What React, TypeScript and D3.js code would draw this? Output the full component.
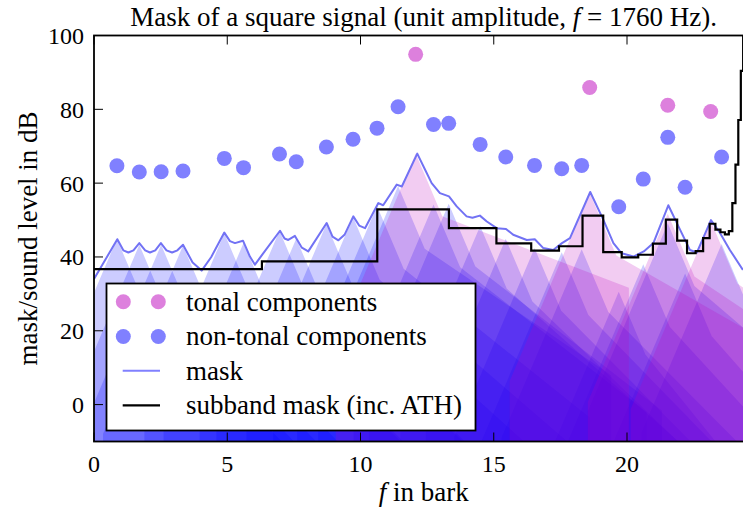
import React from "react";
import * as d3 from "d3";

// ---------- data ----------
const tonalBark = [12.07, 18.6, 21.53, 23.14];
const tonalDb = [94.9, 85.9, 81.1, 79.4];
const tonalMaskPeak = [68.0, 57.4, 51.7, 49.8];

const nonTonalBark = [0.86, 1.7, 2.52, 3.34, 4.89, 5.61, 6.96, 7.59, 8.72, 9.72, 10.62, 11.41, 12.74, 13.31, 14.49, 15.45, 16.53, 17.55, 18.3, 19.69, 20.61, 21.53, 22.18, 23.55];
const nonTonalDb = [64.7, 63.0, 63.1, 63.3, 66.7, 64.2, 67.9, 65.8, 69.8, 71.9, 74.9, 80.7, 75.9, 76.2, 70.5, 67.1, 64.8, 63.9, 64.8, 53.6, 61.1, 72.4, 58.9, 67.1];
const nonTonalMaskPeak = [44.9, 43.3, 43.3, 43.1, 46.4, 43.8, 47.1, 45.0, 48.9, 50.8, 53.8, 59.2, 54.2, 54.4, 48.4, 44.9, 42.4, 41.3, 42.1, 30.6, 38.0, 49.1, 35.5, 43.5];

const maskBark = [0.0, 0.875, 1.1, 1.29, 1.48, 1.7, 1.92, 2.1, 2.3, 2.51, 2.72, 2.93, 3.13, 3.34, 3.7, 4.04, 4.4, 4.89, 5.1, 5.29, 5.59, 5.85, 6.04, 6.3, 6.98, 7.15, 7.29, 7.54, 7.8, 8.04, 8.73, 8.95, 9.17, 9.4, 9.73, 9.95, 10.17, 10.67, 10.85, 11.36, 11.55, 12.13, 12.42, 12.67, 12.98, 13.32, 13.61, 13.98, 14.2, 14.48, 14.74, 15.11, 15.46, 15.73, 16.24, 16.54, 16.86, 17.23, 17.56, 17.86, 18.62, 19.11, 19.49, 19.8, 20.24, 20.63, 20.99, 21.55, 21.99, 22.36, 22.62, 23.15, 23.49, 23.86, 24.35];
const maskDb = [34.0, 44.8, 41.8, 41.2, 41.8, 43.75, 41.8, 41.2, 41.8, 43.75, 41.8, 41.2, 41.8, 43.3, 38.5, 36.3, 40.0, 46.6, 44.3, 43.75, 44.4, 40.1, 37.9, 40.5, 47.1, 45.0, 44.6, 45.7, 42.5, 41.5, 49.2, 45.5, 44.5, 46.0, 51.0, 48.5, 47.8, 54.6, 54.0, 59.6, 59.1, 68.0, 63.7, 60.0, 57.3, 56.4, 53.7, 51.0, 50.6, 51.2, 49.6, 47.8, 47.6, 46.0, 44.6, 44.8, 42.4, 41.9, 43.75, 45.1, 57.6, 50.1, 43.75, 41.0, 40.1, 41.5, 43.75, 54.0, 47.4, 41.9, 41.2, 50.0, 46.5, 41.9, 36.5];

const subbandMaskDb = [36.7, 38.8, 52.9, 47.8, 43.7, 41.7, 42.9, 51.2, 41.3, 39.9, 40.6, 43.6, 50.1, 44.4, 41.0, 41.6, 45.1, 49.0, 47.4, 46.7, 46.1, 47.0, 54.6, 65.0, 77.1, 90.4, 104.0];

const xTicks = [0, 5, 10, 15, 20];
const yTicks = [0, 20, 40, 60, 80, 100];

// ---------- helpers ----------
const hzToBark = (f: number) => 13 * Math.atan(0.00076 * f) + 3.5 * Math.atan((f / 7500) ** 2);
const subbandEdges = d3.range(subbandMaskDb.length + 1).map((k) => hzToBark((k * 22050) / 32));

const W = 743;
const H = 512;
const x = d3.scaleLinear().domain([0, hzToBark(22050)]).range([94, 94 + 26.65 * hzToBark(22050)]);
const y = d3.scaleLinear().domain([-10, 100]).range([441.5, 35.5]);
const FLOOR = -40;

// individual masking curve: 17 dB/bark below (3 bark), 17 dB/bark then (17 - 0.15 X) above (8 bark)
function spreadPoly(z: number, P: number, X: number): [number, number][] {
  const up = 17 - 0.15 * X;
  return [
    [z - 3, FLOOR],
    [z - 3, P - 51],
    [z, P],
    [z + 1, P - 17],
    [z + 8, P - 17 - 7 * up],
    [z + 8, FLOOR],
  ];
}

const FONT = "'Liberation Serif', 'Times New Roman', serif";
const FS = 27;

export default function App() {
  const poly = d3
    .line<[number, number]>()
    .x((d) => x(d[0]))
    .y((d) => y(d[1]));
  const maskLine = d3
    .line<number>()
    .x((_, i) => x(maskBark[i]))
    .y((d) => y(d));
  const stepPts: [number, number][] = subbandMaskDb.map((v, i) => [subbandEdges[i], v] as [number, number]);
  stepPts.push([subbandEdges[subbandMaskDb.length], subbandMaskDb[subbandMaskDb.length - 1]]);
  const stepLine = d3
    .line<[number, number]>()
    .curve(d3.curveStepAfter)
    .x((d) => x(d[0]))
    .y((d) => y(d[1]));

  const left = x(0);
  const right = x.range()[1];
  const top = y(100);
  const bottom = y(-10);

  return (
    <div style={{ position: "absolute", left: 0, top: 0 }}>
      <svg width={W} height={H} style={{ display: "block", background: "#fff" }}>
        <defs>
          <clipPath id="plot">
            <rect x={left} y={top} width={right - left} height={bottom - top} />
          </clipPath>
        </defs>
        <g clipPath="url(#plot)">
          {nonTonalBark.map((z, i) => (
            <path key={"n" + i} d={poly(spreadPoly(z, nonTonalMaskPeak[i], nonTonalDb[i])) + "Z"} fill="#0000ff" fillOpacity={0.2} stroke="none" />
          ))}
          {tonalBark.map((z, i) => (
            <path key={"t" + i} d={poly(spreadPoly(z, tonalMaskPeak[i], tonalDb[i])) + "Z"} fill="#be00be" fillOpacity={0.2} stroke="none" />
          ))}
          <path d={maskLine(maskDb) || ""} fill="none" stroke="#7272f4" strokeWidth={2} strokeLinejoin="round" />
          <path d={stepLine(stepPts) || ""} fill="none" stroke="#000" strokeWidth={2.2} />
          {nonTonalBark.map((z, i) => (
            <circle key={"nc" + i} cx={x(z)} cy={y(nonTonalDb[i])} r={7.5} fill="#8080ff" />
          ))}
          {tonalBark.map((z, i) => (
            <circle key={"tc" + i} cx={x(z)} cy={y(tonalDb[i])} r={7.5} fill="#dd80dd" />
          ))}
        </g>
        {/* frame */}
        <rect x={left} y={top} width={right - left} height={bottom - top} fill="none" stroke="#000" strokeWidth={1.8} />
        {xTicks.map((t) => (
          <g key={"xt" + t}>
            <line x1={x(t)} x2={x(t)} y1={bottom} y2={bottom - 9} stroke="#000" strokeWidth={1} />
            <line x1={x(t)} x2={x(t)} y1={top} y2={top + 9} stroke="#000" strokeWidth={1} />
            <text x={x(t)} y={472} textAnchor="middle" fontFamily={FONT} fontSize={24}>
              {t}
            </text>
          </g>
        ))}
        {yTicks.map((t) => (
          <g key={"yt" + t}>
            <line x1={left} x2={left + 9} y1={y(t)} y2={y(t)} stroke="#000" strokeWidth={1} />
            <text x={84} y={y(t)} dy="0.35em" textAnchor="end" fontFamily={FONT} fontSize={24}>
              {t}
            </text>
          </g>
        ))}
        {/* title and axis labels */}
        <text x={(left + right) / 2} y={26} textAnchor="middle" fontFamily={FONT} fontSize={FS}>
          Mask of a square signal (unit amplitude, <tspan fontStyle="italic">f</tspan> = 1760 Hz).
        </text>
        <text x={(left + right) / 2} y={501} textAnchor="middle" fontFamily={FONT} fontSize={FS}>
          <tspan fontStyle="italic">f</tspan> in bark
        </text>
        <text transform={`translate(37, ${(top + bottom) / 2}) rotate(-90)`} textAnchor="middle" fontFamily={FONT} fontSize={FS}>
          mask/sound level in dB
        </text>
        {/* legend */}
        <g>
          <rect x={106.5} y={283.5} width={369} height={147} fill="#fff" stroke="#000" strokeWidth={1.8} />
          <circle cx={123.3} cy={301.7} r={7.5} fill="#dd80dd" />
          <circle cx={158.3} cy={301.7} r={7.5} fill="#dd80dd" />
          <text x={186} y={310.5} fontFamily={FONT} fontSize={FS}>tonal components</text>
          <circle cx={123.3} cy={336.5} r={7.5} fill="#8080ff" />
          <circle cx={158.3} cy={336.5} r={7.5} fill="#8080ff" />
          <text x={186} y={345.3} fontFamily={FONT} fontSize={FS}>non-tonal components</text>
          <line x1={122.7} x2={160} y1={370.8} y2={370.8} stroke="#8080ff" strokeWidth={2} />
          <text x={186} y={379.5} fontFamily={FONT} fontSize={FS}>mask</text>
          <line x1={122.7} x2={160} y1={405.3} y2={405.3} stroke="#000" strokeWidth={2.2} />
          <text x={186} y={414} fontFamily={FONT} fontSize={FS}>subband mask (inc. ATH)</text>
        </g>
      </svg>
    </div>
  );
}
